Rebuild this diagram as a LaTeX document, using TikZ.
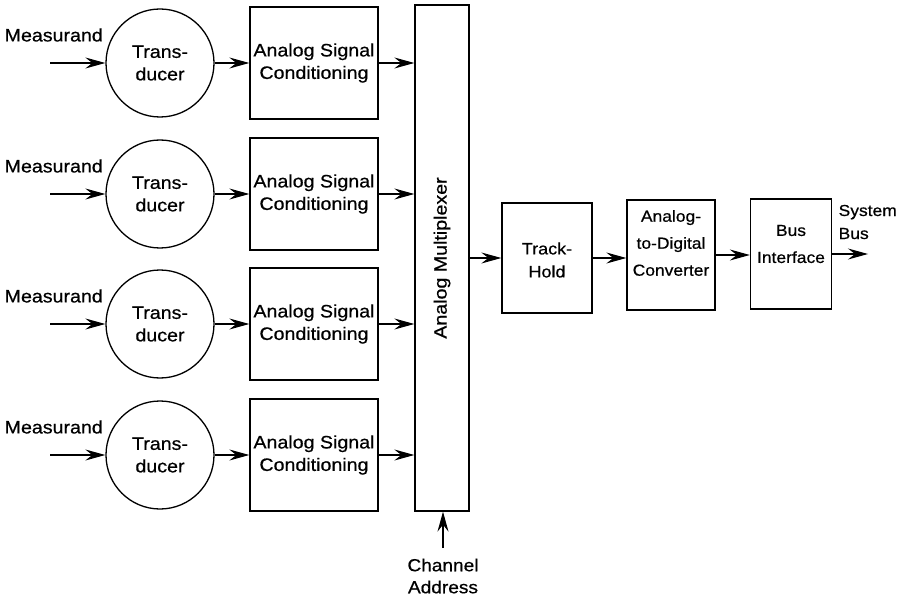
\documentclass[tikz,border=0pt]{standalone}
\usepackage{fontspec}
\setmainfont[FakeStretch=1.09,FakeBold=0.6]{Liberation Sans}
\usetikzlibrary{arrows.meta}
\begin{document}
\begin{tikzpicture}[x=1pt,y=-1pt, line width=1.3pt,
  every node/.style={font=\fontsize{18}{22.5}\selectfont},
  small/.style={font=\fontsize{16}{27}\selectfont},
  box/.style={draw, rectangle, minimum width=128pt, minimum height=112pt, align=center, inner sep=0pt},
  blk/.style={draw, rectangle, inner sep=0pt},
  circ/.style={draw, circle, minimum size=108pt, align=center, inner sep=0pt},
  txt/.style={align=center, inner sep=0pt},
  arr/.style={-{Stealth[length=20pt,width=11pt,inset=7pt]}}]
\useasboundingbox (0,0) rectangle (913,596);

\node[blk, minimum width=54pt, minimum height=506pt] (mux) at (442,258) {};
\node[txt, rotate=90] (muxl) at (442,258) {Analog Multiplexer};

\foreach \i/\y in {1/63,2/194,3/324,4/455}{
  \node[circ] (t\i) at (160,\y) {Trans-\\ducer};
  \node[box] (c\i) at (314,\y) {Analog Signal\\Conditioning};
  \node[txt, anchor=west] (m\i) at (4,\y-28) {Measurand};
  \coordinate (in\i) at (50,\y);
  \draw[arr] (in\i) -- (t\i);
  \draw[arr] (t\i) -- (c\i);
  \draw[arr] (c\i.east) -- (c\i.east -| mux.west);
}

\node[blk, minimum width=90pt, minimum height=110pt] (th) at (547,258) {};
\node[txt, font=\fontsize{16.5}{23}\selectfont] (thl) at (547,260) {Track-\\Hold};
\node[blk, minimum width=88pt, minimum height=110pt] (adc) at (671,255) {};
\node[txt, small] (adcl) at (671,243) {Analog-\\to-Digital\\Converter};
\node[blk, minimum width=81pt, minimum height=110pt] (bus) at (791,254) {};
\node[txt, small] (busl) at (791,244) {Bus\\Interface};

\draw[arr] (mux.east |- th.west) -- (th.west);
\draw[arr] (th.east) -- (th.east -| adc.west);
\draw[arr] (adc.east) -- (adc.east -| bus.west);
\coordinate (out) at (868,254);
\draw[arr] (bus.east) -- (out);
\node[txt, anchor=west, align=left, font=\fontsize{16}{23}\selectfont] (sysbus) at (838,222) {System\\Bus};

\coordinate (ca) at (443,548);
\draw[arr] (ca) -- (ca |- mux.south);
\node[txt, font=\fontsize{17.5}{22}\selectfont] (cal) at (443,576) {Channel\\Address};
\end{tikzpicture}
\end{document}
